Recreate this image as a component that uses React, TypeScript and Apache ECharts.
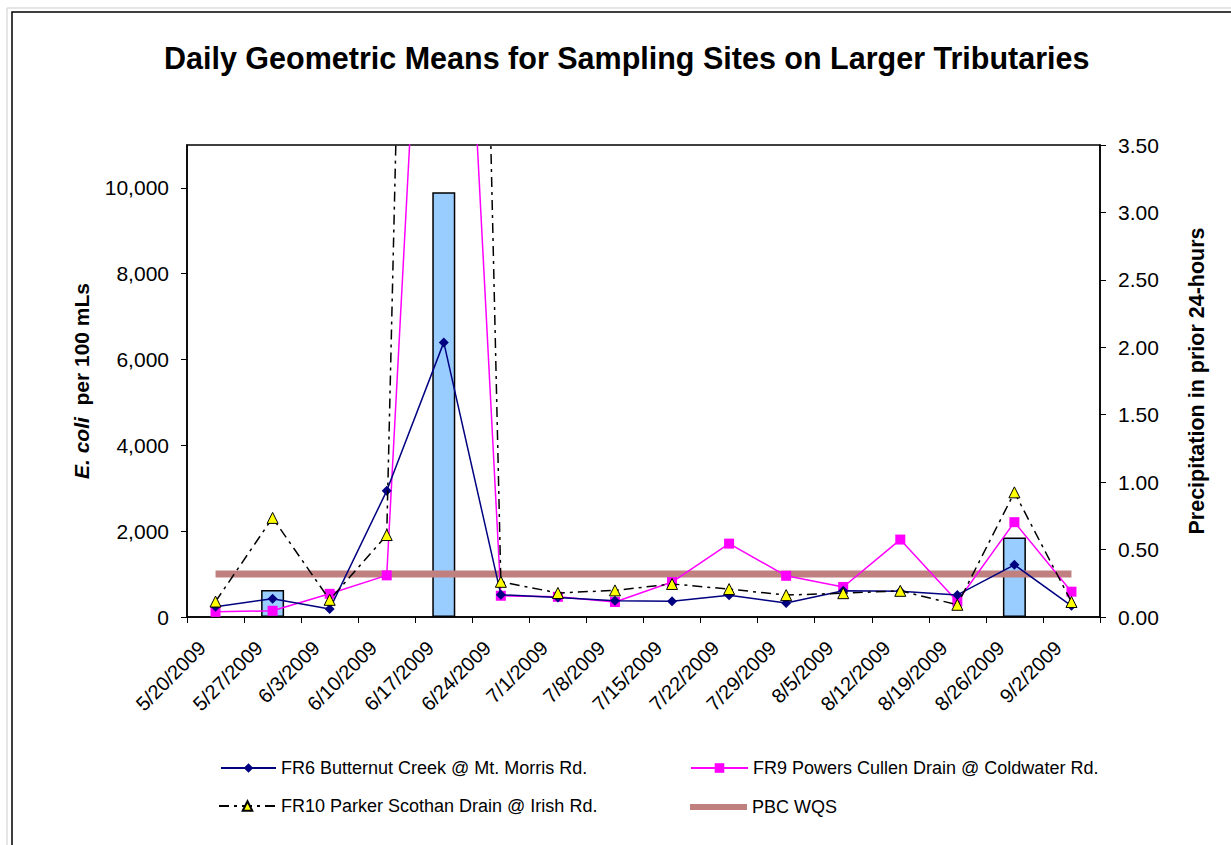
import React, { useEffect, useRef } from "react";
import * as echarts from "echarts";

const dates = [
  "5/20/2009", "5/27/2009", "6/3/2009", "6/10/2009", "6/17/2009", "6/24/2009",
  "7/1/2009", "7/8/2009", "7/15/2009", "7/22/2009", "7/29/2009", "8/5/2009",
  "8/12/2009", "8/19/2009", "8/26/2009", "9/2/2009",
];
const fr6 = [240, 425, 185, 2940, 6400, 520, 455, 380, 365, 505, 325, 610, 600, 515, 1215, 260];
const fr9 = [120, 145, 540, 970, 26000, 495, 470, 350, 815, 1710, 960, 700, 1805, 360, 2210, 590];
const fr10 = [360, 2310, 400, 1910, 59000, 820, 560, 620, 770, 650, 510, 555, 610, 285, 2905, 350];
const wqs = [1000, 1000, 1000, 1000, 1000, 1000, 1000, 1000, 1000, 1000, 1000, 1000, 1000, 1000, 1000, 1000];
const precip = [null, 0.2, null, null, 3.15, null, null, null, null, null, null, null, null, null, 0.59, null];

const FONT = "'Liberation Sans', Arial, sans-serif";

export default function App() {
  const ref = useRef<HTMLDivElement>(null);
  useEffect(() => {
    if (!ref.current) return;
    const chart = echarts.init(ref.current, undefined, { renderer: "svg" });
    const legendText = { fontSize: 18, color: "#000", fontFamily: FONT };
    chart.setOption({
      animation: false,
      backgroundColor: "#fff",
      textStyle: { fontFamily: FONT },
      title: {
        text: "Daily Geometric Means for Sampling Sites on Larger Tributaries",
        left: 159,
        top: 37,
        textStyle: { fontSize: 30.5, fontWeight: "bold", color: "#000", fontFamily: FONT },
      },
      graphic: [
        { type: "rect", shape: { x: 7, y: 8, width: 1300, height: 900 }, style: { fill: "none", stroke: "#ccc", lineWidth: 1 }, silent: true },
        { type: "rect", shape: { x: 12, y: 12, width: 1300, height: 900 }, style: { fill: "none", stroke: "#000", lineWidth: 1.5 }, silent: true },
      ],
      legend: [
        { data: ["FR6 Butternut Creek @ Mt. Morris Rd."], left: 220, top: 759, itemWidth: 55, itemHeight: 12, padding: 0, textStyle: legendText },
        { data: ["FR9 Powers Cullen Drain @ Coldwater Rd."], left: 690, top: 759, itemWidth: 57, itemHeight: 12, padding: 0, textStyle: legendText },
        { data: ["FR10 Parker Scothan Drain @ Irish Rd."], left: 218, top: 797, itemWidth: 57, itemHeight: 12, padding: 0, textStyle: legendText },
        { data: [{ name: "PBC WQS", icon: "rect" }], left: 690, top: 798, itemWidth: 57, itemHeight: 6, padding: 0, textStyle: legendText },
      ],
      grid: {
        left: 187, right: 131, top: 145, bottom: 228,
        show: true, borderColor: "#000", borderWidth: 1.5, backgroundColor: "#fff",
      },
      xAxis: {
        type: "category",
        data: dates,
        boundaryGap: true,
        axisLine: { lineStyle: { color: "#000", width: 1.5 } },
        axisTick: { show: true, length: 6, lineStyle: { color: "#000" } },
        axisLabel: {
          rotate: 45, fontSize: 20, color: "#000", margin: 14, interval: 0, fontFamily: FONT,
          padding: [0, 19, 0, 0],
        },
        splitLine: { show: false },
      },
      yAxis: [
        {
          type: "value",
          min: 0, max: 11000, interval: 2000,
          name: "{i|E. coli}  per 100 mLs",
          nameLocation: "middle",
          nameRotate: 90,
          nameGap: 95,
          nameTextStyle: {
            fontSize: 21, fontWeight: "bold", color: "#000", fontFamily: FONT,
            rich: { i: { fontSize: 21, fontWeight: "bold", fontStyle: "italic", color: "#000", fontFamily: FONT } },
          },
          axisLine: { show: true, lineStyle: { color: "#000", width: 1.5 } },
          axisTick: { show: true, length: 6, lineStyle: { color: "#000" } },
          axisLabel: {
            fontSize: 21, color: "#000", margin: 18, showMaxLabel: false, fontFamily: FONT,
            formatter: (v: number) => v.toLocaleString("en-US"),
          },
          splitLine: { show: false },
        },
        {
          type: "value",
          min: 0, max: 3.5, interval: 0.5,
          position: "right",
          name: "Precipitation in prior 24-hours",
          nameLocation: "middle",
          nameRotate: 90,
          nameGap: 86,
          nameTextStyle: { fontSize: 21.5, fontWeight: "bold", color: "#000", fontFamily: FONT },
          axisLine: { show: true, lineStyle: { color: "#000", width: 1.5 } },
          axisTick: { show: true, length: 6, lineStyle: { color: "#000" } },
          axisLabel: {
            fontSize: 21, color: "#000", margin: 18, fontFamily: FONT,
            formatter: (v: number) => v.toFixed(2),
          },
          splitLine: { show: false },
        },
      ],
      series: [
        {
          name: "Precipitation",
          type: "bar",
          yAxisIndex: 1,
          data: precip,
          barWidth: 23,
          itemStyle: { color: "#99CCFF", borderColor: "#000", borderWidth: 1.5 },
          z: 1,
        },
        {
          name: "PBC WQS",
          type: "line",
          data: wqs,
          symbol: "none",
          lineStyle: { color: "#C08080", width: 7 },
          itemStyle: { color: "#C08080" },
          z: 2,
        },
        {
          name: "FR9 Powers Cullen Drain @ Coldwater Rd.",
          type: "line",
          data: fr9,
          symbol: "rect",
          symbolSize: 10,
          lineStyle: { color: "#FF00FF", width: 1.5 },
          itemStyle: { color: "#FF00FF" },
          z: 3,
        },
        {
          name: "FR6 Butternut Creek @ Mt. Morris Rd.",
          type: "line",
          data: fr6,
          symbol: "diamond",
          symbolSize: 10,
          lineStyle: { color: "#000080", width: 1.5 },
          itemStyle: { color: "#000080" },
          z: 4,
        },
        {
          name: "FR10 Parker Scothan Drain @ Irish Rd.",
          type: "line",
          data: fr10,
          symbol: "triangle",
          symbolSize: 11,
          lineStyle: { color: "#000", width: 1.5, type: [10, 5, 3, 5] },
          itemStyle: { color: "#FFFF00", borderColor: "#000", borderWidth: 1 },
          z: 5,
        },
      ],
    });
    return () => chart.dispose();
  }, []);
  return (
    <div
      ref={ref}
      style={{ position: "fixed", left: 0, top: 0, width: 1231, height: 845, background: "#fff" }}
    />
  );
}
